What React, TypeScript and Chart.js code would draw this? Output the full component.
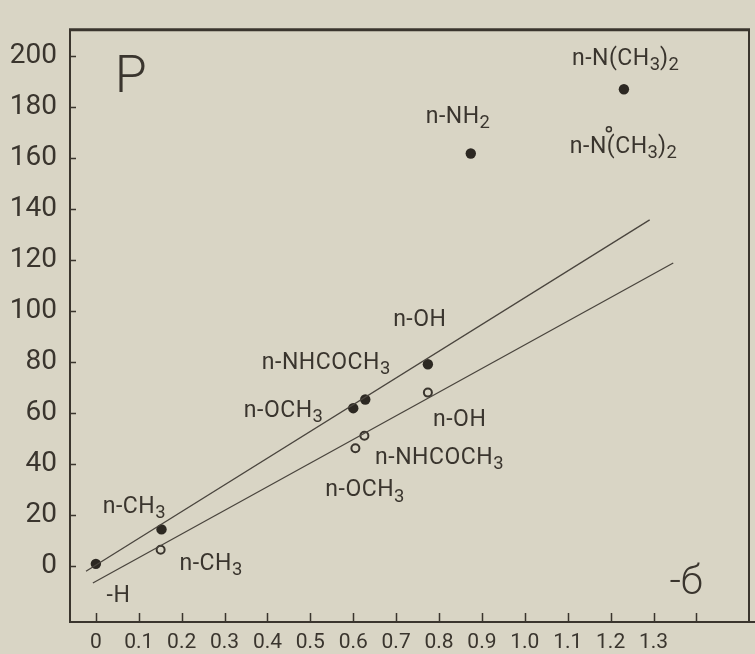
import React, { useEffect, useRef } from 'react';
import { Chart, registerables } from 'chart.js';

Chart.register(...registerables);

// ---- data ----
const xTickValues = [0, 0.1, 0.2, 0.3, 0.4, 0.5, 0.6, 0.7, 0.8, 0.9, 1.0, 1.1, 1.2, 1.3, 1.4];
const xTickLabels = ['0', '0.1', '0.2', '0.3', '0.4', '0.5', '0.6', '0.7', '0.8', '0.9', '1.0', '1.1', '1.2', '1.3', ''];
const yTickValues = [0, 20, 40, 60, 80, 100, 120, 140, 160, 180, 200];
const yTickLabels = ['0', '20', '40', '60', '80', '100', '120', '140', '160', '180', '200'];

const filledSigma = [0, 0.153, 0.6, 0.628, 0.774, 0.874, 1.231];
const filledP = [1.0, 14.5, 62.0, 65.4, 79.2, 161.8, 187.0];
const openSigma = [0.151, 0.605, 0.626, 0.774];
const openP = [6.5, 46.3, 51.2, 68.1];
const openSmallSigma = [1.196];
const openSmallP = [171.3];

const upperFitSigma = [-0.023, 1.291];
const upperFitP = [-1.9, 135.8];
const lowerFitSigma = [-0.007, 1.346];
const lowerFitP = [-6.5, 118.9];

const labelTexts = [
  'n-NH2', 'n-N(CH3)2', 'n-N(CH3)2', 'n-OH', 'n-NHCOCH3', 'n-OCH3',
  'n-CH3', 'n-CH3', '-H', 'n-OH', 'n-NHCOCH3', 'n-OCH3',
];
const labelSigma = [0.769, 1.11, 1.105, 0.693, 0.387, 0.345, 0.016, 0.195, 0.025, 0.786, 0.651, 0.535];
const labelP = [177.1, 199.6, 165.2, 97.5, 80.7, 61.6, 24.1, 1.9, -10.7, 58.1, 43.2, 30.6];

const yTitle = 'P';
const yTitleSigma = 0.044;
const yTitleP = 193.1;
const xTitle = '-б';
const xTitleSigma = 1.337;
const xTitleP = -5.0;

const X_MIN = -0.0603;
const X_MAX = 1.5226;
const Y_MIN = -21.8;
const Y_MAX = 210.3;

// ---- styling ----
const BG = '#d9d5c5';
const INK = '#3a352e';
const FONT = 'Roboto, "DejaVu Sans", sans-serif';

function drawRich(ctx: CanvasRenderingContext2D, text: string, x: number, yCenter: number, size: number) {
  const chars = Array.from(text);
  let cx = x;
  const base = yCenter + size * 0.356;
  chars.forEach((ch, i) => {
    const prev = chars[i - 1];
    const sub = /[0-9]/.test(ch) && !!prev && /[A-Za-z)]/.test(prev);
    const s = sub ? size * 0.8 : size;
    ctx.font = `${s}px ${FONT}`;
    ctx.fillText(ch, cx, sub ? base + size * 0.22 : base);
    cx += ctx.measureText(ch).width + (sub ? 0 : 0.5);
  });
}

const decorPlugin = {
  id: 'decor',
  beforeDraw(chart: any) {
    const { ctx, width, height } = chart;
    ctx.save();
    ctx.fillStyle = BG;
    ctx.fillRect(0, 0, width, height);
    ctx.restore();
  },
  afterDraw(chart: any) {
    const { ctx, chartArea: a, scales } = chart;
    const xs = scales.x;
    const ys = scales.y;
    ctx.save();
    ctx.strokeStyle = INK;
    ctx.lineCap = 'butt';
    // frame
    ctx.lineWidth = 3;
    ctx.beginPath();
    ctx.moveTo(a.left - 1, a.top);
    ctx.lineTo(a.right + 1, a.top);
    ctx.stroke();
    ctx.lineWidth = 2;
    ctx.beginPath();
    ctx.moveTo(a.left, a.top);
    ctx.lineTo(a.left, a.bottom);
    ctx.moveTo(a.left - 1, a.bottom);
    ctx.lineTo(chart.width, a.bottom);
    ctx.moveTo(a.right, a.top);
    ctx.lineTo(a.right, a.bottom);
    ctx.stroke();
    // inward ticks
    ctx.lineWidth = 1.5;
    ctx.beginPath();
    yTickValues.forEach((v) => {
      const py = Math.round(ys.getPixelForValue(v)) + 0.5;
      ctx.moveTo(a.left, py);
      ctx.lineTo(a.left + 6, py);
    });
    xTickValues.forEach((v) => {
      const px = Math.round(xs.getPixelForValue(v)) + 0.5;
      ctx.moveTo(px, a.bottom);
      ctx.lineTo(px, a.bottom - 9);
    });
    ctx.stroke();
    // labels
    ctx.fillStyle = INK;
    ctx.textAlign = 'left';
    ctx.textBaseline = 'alphabetic';
    labelTexts.forEach((t, i) => {
      drawRich(ctx, t, xs.getPixelForValue(labelSigma[i]), ys.getPixelForValue(labelP[i]), 23);
    });
    ctx.font = `300 52px ${FONT}`;
    ctx.fillText(yTitle, xs.getPixelForValue(yTitleSigma), ys.getPixelForValue(yTitleP) + 52 * 0.356);
    ctx.font = `300 40px ${FONT}`;
    ctx.fillText(xTitle, xs.getPixelForValue(xTitleSigma), ys.getPixelForValue(xTitleP) + 40 * 0.36);
    ctx.restore();
  },
};

export default function App() {
  const canvasRef = useRef<HTMLCanvasElement | null>(null);

  useEffect(() => {
    if (!canvasRef.current) return;
    const toPts = (xs: number[], ys: number[]) => xs.map((x, i) => ({ x, y: ys[i] }));
    const chart = new Chart(canvasRef.current, {
      type: 'scatter',
      data: {
        datasets: [
          {
            label: 'upper fit',
            data: toPts(upperFitSigma, upperFitP),
            showLine: true,
            borderColor: '#4a453e',
            borderWidth: 1.3,
            pointRadius: 0,
          } as any,
          {
            label: 'lower fit',
            data: toPts(lowerFitSigma, lowerFitP),
            showLine: true,
            borderColor: '#4a453e',
            borderWidth: 1.3,
            pointRadius: 0,
          } as any,
          {
            label: 'filled',
            data: toPts(filledSigma, filledP),
            pointRadius: 5.2,
            backgroundColor: '#2c2822',
            borderWidth: 0,
          },
          {
            label: 'open',
            data: toPts(openSigma, openP),
            pointRadius: 4,
            backgroundColor: BG,
            borderColor: '#3a352e',
            borderWidth: 2,
          },
          {
            label: 'open small',
            data: toPts(openSmallSigma, openSmallP),
            pointRadius: 2.5,
            backgroundColor: BG,
            borderColor: '#3a352e',
            borderWidth: 1.5,
          },
        ],
      },
      options: {
        animation: false,
        responsive: true,
        maintainAspectRatio: false,
        layout: { padding: { top: 15, right: 2, left: 0, bottom: 0 } },
        plugins: { legend: { display: false }, tooltip: { enabled: false } },
        scales: {
          x: {
            type: 'linear',
            min: X_MIN,
            max: X_MAX,
            grid: { display: false, drawTicks: false },
            border: { display: false },
            afterBuildTicks: (scale: any) => {
              scale.ticks = xTickValues.map((v) => ({ value: v }));
            },
            afterFit: (scale: any) => {
              scale.height = 32;
            },
            ticks: {
              autoSkip: false,
              maxRotation: 0,
              padding: 8,
              color: INK,
              font: { family: FONT, size: 21 },
              callback: (_v: any, i: number) => xTickLabels[i],
            },
          },
          y: {
            type: 'linear',
            min: Y_MIN,
            max: Y_MAX,
            grid: { display: false, drawTicks: false },
            border: { display: false },
            afterBuildTicks: (scale: any) => {
              scale.ticks = yTickValues.map((v) => ({ value: v }));
            },
            afterFit: (scale: any) => {
              scale.width = 70;
            },
            ticks: {
              autoSkip: false,
              padding: 13,
              color: INK,
              font: { family: FONT, size: 28 },
              callback: (_v: any, i: number) => yTickLabels[i],
            },
          },
        },
      },
      plugins: [decorPlugin],
    });
    return () => chart.destroy();
  }, []);

  return (
    <div style={{ position: 'absolute', left: 0, top: 0, width: 755, height: 654, background: BG }}>
      <canvas ref={canvasRef} />
    </div>
  );
}
